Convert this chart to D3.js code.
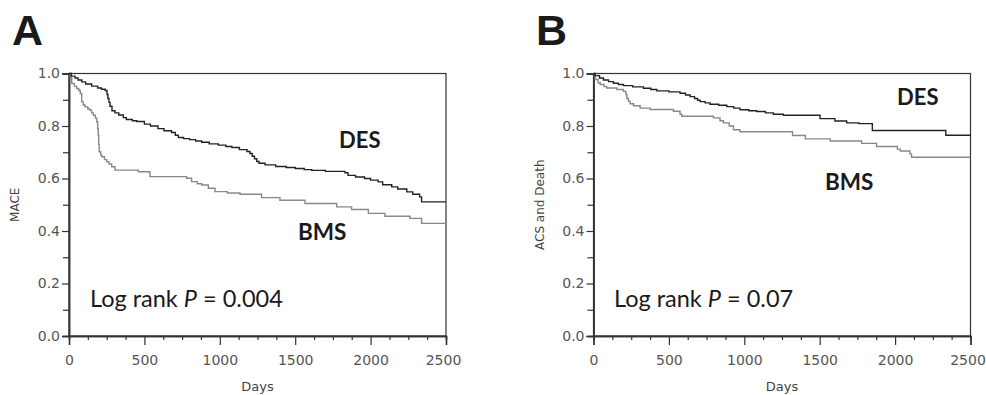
<!DOCTYPE html>
<html>
<head>
<meta charset="utf-8">
<script src="https://cdn.jsdelivr.net/npm/d3@7"></script>
<style>
  html, body { margin: 0; padding: 0; background: #fff; }
  svg { display: block; }
</style>
</head>
<body>
<svg id="chart" width="986" height="395"></svg>
<script>
// ---------- data ----------
const panelLetters = ["A", "B"];
const yAxisTitles = ["MACE", "ACS and Death"];
const xAxisTitle = "Days";
const seriesNames = ["DES", "BMS"];
const pValues = ["0.004", "0.07"];
const xTickValues = [0, 500, 1000, 1500, 2000, 2500];
const xMinorTickValues = [125, 250, 375, 625, 750, 875, 1125, 1250, 1375, 1625, 1750, 1875, 2125, 2250, 2375];
const yTickValues = [0, 0.2, 0.4, 0.6, 0.8, 1.0];
const yMinorTickValues = [0.1, 0.3, 0.5, 0.7, 0.9];

// Panel A – DES
const desA_days = [0, 15, 40, 60, 85, 110, 150, 190, 215, 240, 252, 258, 265, 272, 285, 305, 330, 360, 380, 420, 450, 500, 540, 590, 630, 680, 705, 725, 760, 800, 840, 880, 930, 990, 1040, 1080, 1130, 1180, 1200, 1215, 1230, 1245, 1260, 1300, 1370, 1440, 1500, 1560, 1610, 1700, 1830, 1850, 1900, 1960, 2000, 2050, 2080, 2140, 2180, 2240, 2280, 2325, 2338, 2500];
const desA_surv = [1.0, 0.99, 0.983, 0.975, 0.968, 0.96, 0.952, 0.945, 0.94, 0.935, 0.92, 0.905, 0.89, 0.875, 0.858, 0.85, 0.842, 0.832, 0.825, 0.82, 0.817, 0.807, 0.8, 0.79, 0.782, 0.775, 0.765, 0.756, 0.752, 0.748, 0.743, 0.738, 0.732, 0.727, 0.722, 0.718, 0.71, 0.703, 0.695, 0.685, 0.675, 0.665, 0.658, 0.652, 0.646, 0.642, 0.638, 0.634, 0.631, 0.627, 0.622, 0.612, 0.606, 0.6, 0.594, 0.587, 0.576, 0.568, 0.56, 0.549, 0.54, 0.53, 0.511, 0.511];
// Panel A – BMS
const bmsA_days = [0, 8, 18, 35, 50, 65, 75, 84, 95, 106, 125, 139, 150, 161, 175, 184, 190, 194, 197, 200, 210, 217, 235, 250, 265, 283, 305, 459, 537, 780, 813, 850, 880, 924, 968, 1050, 1134, 1277, 1399, 1565, 1775, 1874, 1985, 2095, 2261, 2338, 2500];
const bmsA_surv = [1.0, 0.984, 0.962, 0.952, 0.943, 0.935, 0.924, 0.892, 0.88, 0.873, 0.865, 0.86, 0.85, 0.841, 0.83, 0.816, 0.79, 0.765, 0.73, 0.702, 0.69, 0.683, 0.672, 0.664, 0.655, 0.645, 0.632, 0.626, 0.607, 0.601, 0.588, 0.58, 0.575, 0.563, 0.55, 0.545, 0.54, 0.527, 0.517, 0.505, 0.492, 0.482, 0.467, 0.456, 0.448, 0.429, 0.429];
// Panel B – DES
const desB_days = [0, 11, 40, 66, 100, 132, 165, 199, 260, 331, 380, 420, 500, 574, 610, 641, 670, 690, 707, 740, 773, 830, 884, 930, 972, 1030, 1082, 1140, 1193, 1259, 1502, 1601, 1679, 1760, 1849, 2336, 2500];
const desB_surv = [1.0, 0.992, 0.983, 0.975, 0.969, 0.963, 0.958, 0.954, 0.949, 0.944, 0.939, 0.934, 0.93, 0.925, 0.918, 0.912, 0.905, 0.898, 0.893, 0.888, 0.883, 0.879, 0.874, 0.868, 0.862, 0.858, 0.855, 0.85, 0.845, 0.841, 0.828, 0.819, 0.812, 0.809, 0.783, 0.765, 0.765];
// Panel B – BMS
const bmsB_days = [0, 11, 30, 44, 70, 88, 155, 199, 215, 221, 232, 243, 265, 309, 375, 530, 574, 585, 795, 839, 861, 900, 928, 972, 1320, 1405, 1570, 1778, 1877, 2015, 2035, 2098, 2109, 2500];
const bmsB_surv = [1.0, 0.977, 0.965, 0.958, 0.95, 0.945, 0.939, 0.932, 0.92, 0.905, 0.894, 0.885, 0.877, 0.868, 0.863, 0.856, 0.845, 0.837, 0.831, 0.82, 0.812, 0.8, 0.786, 0.778, 0.764, 0.751, 0.743, 0.734, 0.722, 0.712, 0.705, 0.694, 0.681, 0.681];

const panels = [
  { letter: panelLetters[0], ytitle: yAxisTitles[0], p: pValues[0],
    des: desA_days.map((d, i) => [d, desA_surv[i]]),
    bms: bmsA_days.map((d, i) => [d, bmsA_surv[i]]),
    x0: 69, x1: 446, letterX: 12, ytitleX: 15,
    desLab: [339, 148], bmsLab: [298, 240], pX: 90 },
  { letter: panelLetters[1], ytitle: yAxisTitles[1], p: pValues[1],
    des: desB_days.map((d, i) => [d, desB_surv[i]]),
    bms: bmsB_days.map((d, i) => [d, bmsB_surv[i]]),
    x0: 593.5, x1: 970.5, letterX: 536, ytitleX: 540,
    desLab: [897, 105], bmsLab: [825, 190], pX: 614 }
];

const yTop = 73.5, yBot = 336;
const svg = d3.select("#chart");
const axisColor = "#333";
const labelColor = "#555";
const tickFont = "DejaVu Sans, Verdana, sans-serif";
const textFont = "Lato, 'Open Sans', sans-serif";

panels.forEach(pn => {
  const x = d3.scaleLinear().domain([0, 2500]).range([pn.x0, pn.x1]);
  const y = d3.scaleLinear().domain([0, 1]).range([yBot, yTop]);
  const g = svg.append("g");

  // frame (top & right)
  g.append("rect")
    .attr("x", x(0)).attr("y", y(1))
    .attr("width", x(2500) - x(0)).attr("height", y(0) - y(1))
    .attr("fill", "none").attr("stroke", axisColor).attr("stroke-width", 1.2);

  // x axis major
  const xa = g.append("g").attr("transform", `translate(0,${yBot})`)
    .call(d3.axisBottom(x).tickValues(xTickValues).tickSize(9).tickPadding(10).tickFormat(d3.format("d")));
  xa.selectAll(".tick text").filter(d => d === 2500).attr("dx", -3);
  // x axis minor
  g.append("g").attr("transform", `translate(0,${yBot})`)
    .call(d3.axisBottom(x).tickValues(xMinorTickValues).tickSize(4).tickFormat(""));
  // y axis major
  g.append("g").attr("transform", `translate(${pn.x0},0)`)
    .call(d3.axisLeft(y).tickValues(yTickValues).tickSize(7).tickPadding(2).tickFormat(d3.format(".1f")));
  // y axis minor
  g.append("g").attr("transform", `translate(${pn.x0},0)`)
    .call(d3.axisLeft(y).tickValues(yMinorTickValues).tickSize(6).tickFormat(""));

  g.selectAll(".domain").attr("stroke", axisColor).attr("stroke-width", 1.5);
  g.selectAll(".tick line").attr("stroke", axisColor).attr("stroke-width", 1.2);
  g.selectAll(".tick text").attr("fill", labelColor)
    .style("font-family", tickFont).style("font-size", "14px");

  // curves
  const line = d3.line().x(d => x(d[0])).y(d => y(d[1])).curve(d3.curveStepAfter);
  g.append("path").datum(pn.bms).attr("d", line)
    .attr("fill", "none").attr("stroke", "#888").attr("stroke-width", 1.4);
  g.append("path").datum(pn.des).attr("d", line)
    .attr("fill", "none").attr("stroke", "#222").attr("stroke-width", 1.4);

  // titles
  g.append("text").attr("x", (pn.x0 + pn.x1) / 2).attr("y", 391)
    .attr("text-anchor", "middle").attr("fill", "#444")
    .style("font-family", tickFont).style("font-size", "13px").text(xAxisTitle);
  g.append("text")
    .attr("transform", `translate(${pn.ytitleX + 4},${(yTop + yBot) / 2}) rotate(-90)`)
    .attr("text-anchor", "middle").attr("fill", "#444")
    .style("font-family", tickFont).style("font-size", "12px").text(pn.ytitle);

  // panel letter
  g.append("text").attr("x", pn.letterX).attr("y", 45)
    .attr("fill", "#1a1a1a").style("font-family", "Liberation Sans, Arial, sans-serif")
    .style("font-weight", "bold").style("font-size", "43px").text(pn.letter);

  // series labels
  g.append("text").attr("x", pn.desLab[0]).attr("y", pn.desLab[1])
    .attr("fill", "#1a1a1a").style("font-family", textFont).style("font-weight", "bold")
    .style("font-size", "22px").text(seriesNames[0]);
  g.append("text").attr("x", pn.bmsLab[0]).attr("y", pn.bmsLab[1])
    .attr("fill", "#1a1a1a").style("font-family", textFont).style("font-weight", "bold")
    .style("font-size", "22.5px").text(seriesNames[1]);

  // log rank text
  const t = g.append("text").attr("x", pn.pX).attr("y", 307)
    .attr("fill", "#1a1a1a").style("font-family", textFont).style("font-size", "23.5px");
  t.append("tspan").text("Log rank ");
  t.append("tspan").style("font-style", "italic").text("P");
  t.append("tspan").text(" = " + pn.p);
});
</script>
</body>
</html>
